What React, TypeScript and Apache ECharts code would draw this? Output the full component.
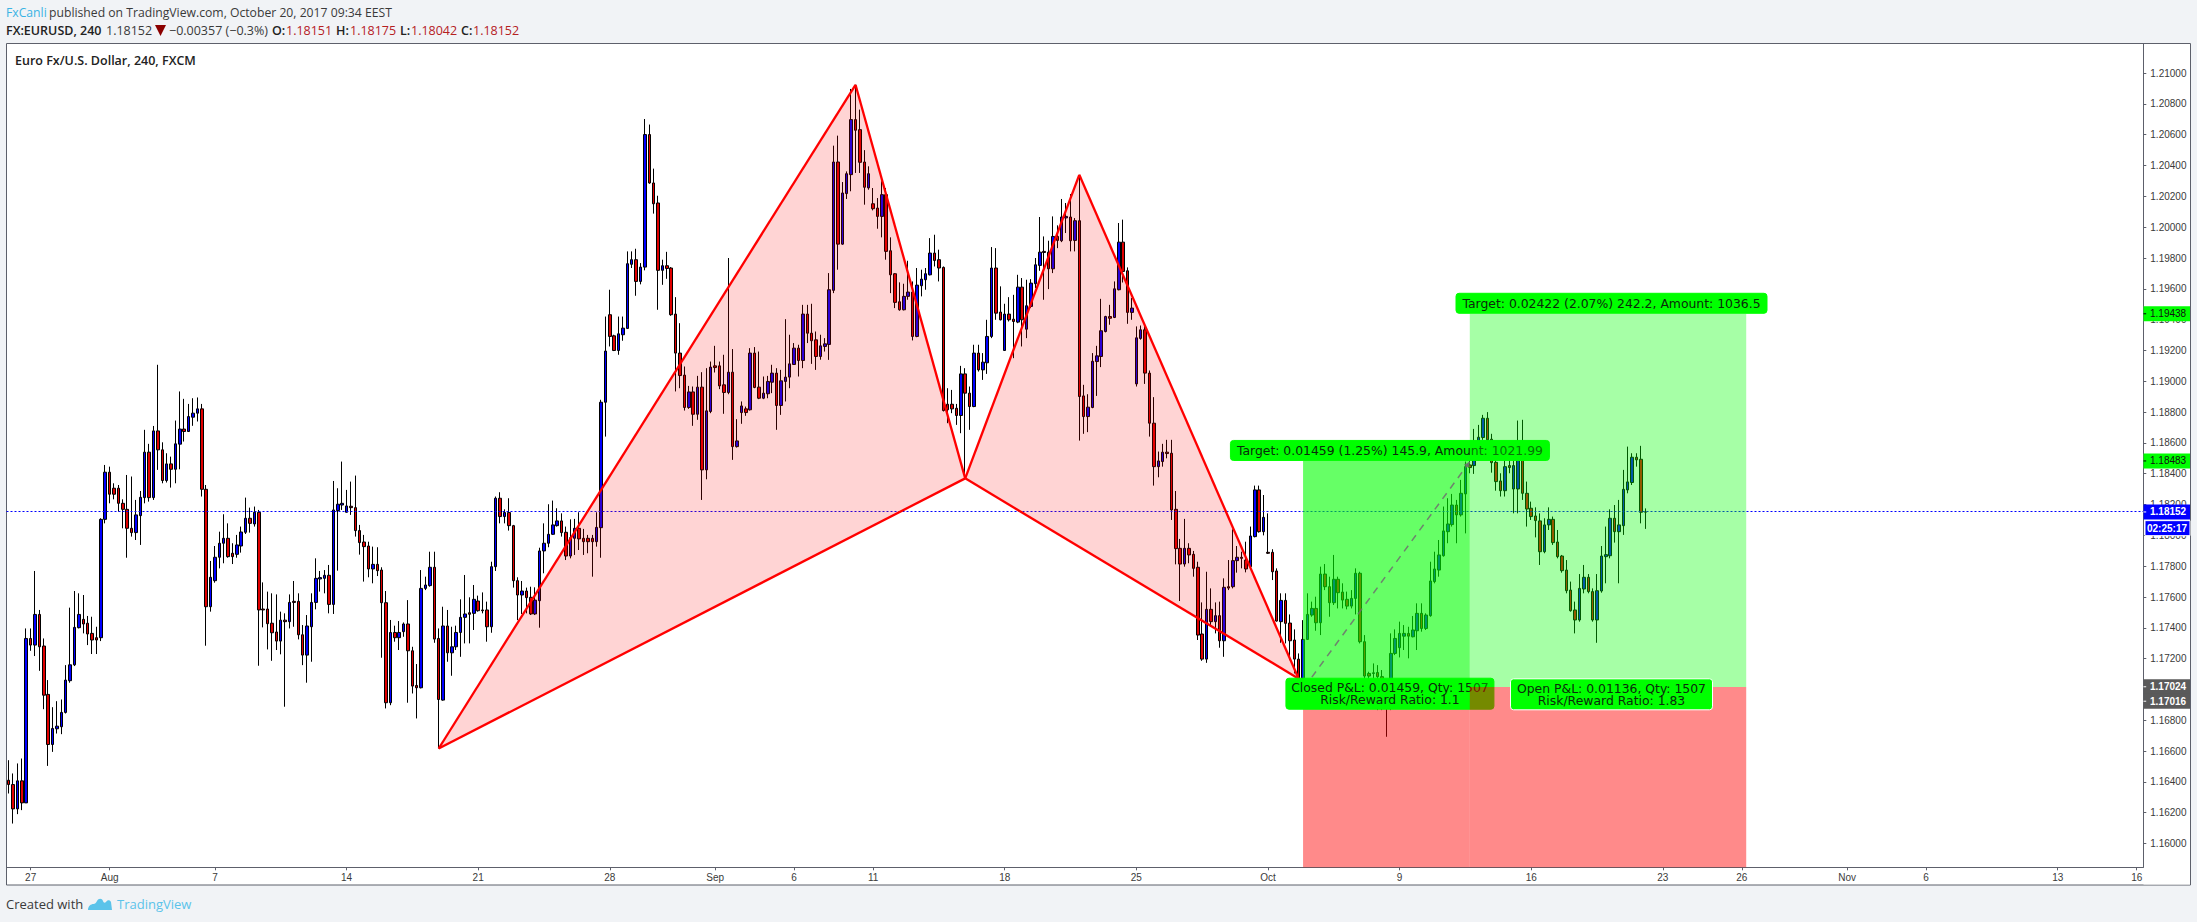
import React, { useEffect, useRef } from "react";
import * as echarts from "echarts";

// [open, close, low, high], split by stretch of the chart
const lateJulyBars = [
[1.16411,1.16383,1.16325,1.16541],[1.16383,1.16225,1.1613,1.16455],[1.16225,1.16407,1.16191,1.1652],[1.16407,1.16264,1.16217,1.16552],
[1.16264,1.17331,1.16264,1.17396],[1.17331,1.17288,1.17251,1.17396],[1.17288,1.17487,1.17217,1.17769],[1.17487,1.17277,1.17121,1.17516],
[1.17282,1.16963,1.16872,1.17331],[1.16968,1.16643,1.16504,1.17061],[1.16643,1.16747,1.16595,1.16885],[1.16745,1.16762,1.16714,1.16924],
[1.16758,1.16851,1.1671,1.16935],[1.16851,1.17061,1.16844,1.17158],[1.17057,1.1716,1.17044,1.17531],[1.1716,1.17403,1.17152,1.17639],
[1.17401,1.17487,1.17396,1.17624],[1.17455,1.17425,1.17364,1.17613],[1.1743,1.1736,1.17288,1.17477],[1.17364,1.17321,1.1723,1.17472],
[1.17336,1.17321,1.1723,1.17407],[1.17336,1.18104,1.17314,1.18111],[1.18104,1.1841,1.18078,1.18457],
];
const earlyAugustBars = [
[1.1841,1.18267,1.18208,1.18446],[1.18306,1.18267,1.18234,1.18338],[1.18306,1.18208,1.18154,1.18327],[1.18208,1.18169,1.18046,1.18234],
[1.18169,1.18046,1.17855,1.18392],[1.18046,1.18018,1.17992,1.18382],[1.18018,1.18133,1.1797,1.1823],[1.18128,1.18247,1.17938,1.18288],
[1.18245,1.1854,1.18208,1.18685],[1.1854,1.18245,1.18219,1.18594],[1.18245,1.18678,1.1823,1.1871],[1.18678,1.18555,1.18425,1.19107],
[1.18555,1.18356,1.18338,1.18604],[1.18356,1.18464,1.18343,1.18533],[1.18464,1.18429,1.1831,1.18511],[1.18429,1.18594,1.18338,1.18745],
[1.18592,1.1869,1.18429,1.18934],[1.1869,1.18674,1.18609,1.18886],[1.18674,1.18771,1.18674,1.18853],[1.18767,1.18793,1.18711,1.1889],
[1.18793,1.18821,1.18739,1.18895],[1.18821,1.18299,1.18252,1.18853],[1.18299,1.17537,1.17284,1.18327],
];
const midAugustBars = [
[1.17537,1.17728,1.17505,1.17834],[1.17706,1.17858,1.17693,1.17931],[1.17858,1.17949,1.17786,1.18024],[1.17949,1.17981,1.17819,1.18137],
[1.17981,1.17862,1.17855,1.18078],[1.17884,1.17862,1.17814,1.17949],[1.17877,1.17938,1.17855,1.18003],[1.17931,1.18022,1.17888,1.18057],
[1.1802,1.18111,1.18009,1.18245],[1.18111,1.18078,1.18018,1.1818],[1.18074,1.1815,1.18057,1.18187],[1.1815,1.17516,1.17154,1.18165],
[1.17522,1.17516,1.17403,1.17695],[1.17522,1.17427,1.1726,1.17635],[1.1743,1.17368,1.17186,1.17624],[1.17373,1.17314,1.17256,1.17617],
[1.17314,1.1745,1.17228,1.17505],[1.1745,1.1744,1.16888,1.17494],[1.1744,1.17565,1.17396,1.17617],[1.17572,1.17565,1.17407,1.17704],
[1.17572,1.17355,1.17325,1.17624],[1.17355,1.17223,1.17158,1.17418],[1.17223,1.17412,1.17044,1.17483],[1.17407,1.17565,1.1718,1.17624],
[1.17565,1.17721,1.1752,1.17851],[1.17717,1.17726,1.17635,1.17769],[1.17721,1.17741,1.17624,1.17775],[1.17741,1.17552,1.17494,1.17808],
[1.17552,1.18165,1.1749,1.18353],[1.18161,1.18202,1.17771,1.18306],[1.18197,1.18208,1.18165,1.18479],[1.1815,1.18191,1.18148,1.18295],
[1.18189,1.1818,1.18133,1.18349],[1.1818,1.18031,1.17992,1.18388],[1.18031,1.17953,1.17875,1.18068],[1.17957,1.17927,1.177,1.18003],
[1.17931,1.17782,1.17728,1.17959],[1.17782,1.17812,1.17689,1.17927],[1.17812,1.17771,1.17736,1.17923],[1.17775,1.17563,1.17206,1.17793],
[1.17563,1.16914,1.16877,1.17639],[1.16914,1.1737,1.16898,1.17451],[1.1737,1.17336,1.1731,1.17414],[1.17336,1.1737,1.17256,1.17444],
[1.17375,1.17425,1.17342,1.17435],[1.17425,1.17251,1.16914,1.1758],[1.17251,1.17022,1.16974,1.17277],[1.17026,1.17011,1.16812,1.17165],
[1.17011,1.17656,1.17007,1.17775],[1.17656,1.17678,1.17645,1.17732],[1.17674,1.17793,1.17667,1.17894],[1.17793,1.17327,1.17303,1.17894],
[1.17331,1.16935,1.16617,1.17396],[1.16931,1.17412,1.16927,1.17537],
];
const lateAugustBars = [
[1.17412,1.17238,1.1718,1.17516],[1.17238,1.17277,1.17089,1.17407],[1.17277,1.1737,1.17256,1.17414],[1.1737,1.17468,1.17212,1.17585],
[1.17468,1.1749,1.17299,1.17743],[1.17498,1.17488,1.17299,1.17598],[1.17494,1.17585,1.17386,1.17678],[1.17574,1.17511,1.17505,1.17609],
[1.17516,1.17511,1.17494,1.1763],[1.17516,1.17407,1.1731,1.1757],[1.17407,1.17797,1.17368,1.17829],[1.17797,1.18241,1.17769,1.18252],
[1.18241,1.18122,1.18078,1.1828],[1.18122,1.18148,1.18078,1.18169],[1.18148,1.18063,1.18031,1.18241],[1.18063,1.17706,1.17661,1.18068],
[1.17706,1.17613,1.1745,1.17728],[1.17613,1.17639,1.1749,1.17704],[1.17639,1.17596,1.17494,1.17661],[1.17598,1.1749,1.17483,1.17667],
[1.1749,1.1758,1.17483,1.17663],[1.17576,1.17899,1.17401,1.1792],[1.17899,1.17949,1.17754,1.18078],[1.17949,1.18007,1.17923,1.18202],
[1.18007,1.18068,1.18003,1.18226],[1.18063,1.18094,1.18057,1.18176],[1.18094,1.18018,1.17992,1.18143],[1.1802,1.17866,1.1784,1.18057],
[1.17866,1.17985,1.17851,1.18104],[1.17981,1.18046,1.17873,1.18107],[1.18046,1.17977,1.17905,1.1815],[1.17981,1.17959,1.17873,1.18042],
[1.17981,1.17959,1.17884,1.18003],[1.17981,1.17959,1.17732,1.18003],[1.17959,1.18052,1.17927,1.1815],[1.1805,1.18864,1.17855,1.1888],
[1.18864,1.19196,1.18641,1.1942],[1.19432,1.19291,1.19226,1.19594],[1.19295,1.192,1.19196,1.19302],[1.192,1.19308,1.19172,1.1942],
[1.19302,1.19345,1.19263,1.1942],[1.19343,1.19763,1.19341,1.19843],[1.19759,1.19789,1.19735,1.19843],[1.19789,1.19648,1.19555,1.1986],
[1.19648,1.19741,1.19629,1.19767],[1.19741,1.20601,1.1972,1.20702],[1.20601,1.20287,1.20282,1.20666],[1.20287,1.20152,1.20088,1.2038],
[1.20157,1.1972,1.19464,1.20204],[1.1972,1.1975,1.19626,1.19789],[1.1975,1.19732,1.19665,1.1984],[1.19735,1.19432,1.19425,1.19741],
[1.19436,1.19183,1.18934,1.19546],[1.19183,1.19037,1.18955,1.19377],[1.1904,1.1883,1.1881,1.19096],[1.1883,1.18931,1.18821,1.1897],
[1.18931,1.18786,1.18711,1.18966],[1.18786,1.18962,1.1875,1.19035],[1.18962,1.18425,1.1823,1.19059],[1.18425,1.18808,1.18364,1.19085],
];
const earlySeptemberBars = [
[1.18804,1.19092,1.18793,1.19128],[1.191,1.19089,1.19057,1.1923],[1.191,1.1897,1.18949,1.19128],[1.18977,1.18927,1.18789,1.19172],
[1.18927,1.19059,1.18916,1.198],[1.19059,1.18576,1.1849,1.19209],[1.18576,1.18613,1.1857,1.18754],[1.18797,1.1884,1.18724,1.18869],
[1.18821,1.18797,1.18776,1.18836],[1.18815,1.19183,1.1881,1.19215],[1.19183,1.1896,1.18955,1.19222],[1.18962,1.1889,1.18884,1.19193],
[1.1889,1.18923,1.18884,1.19031],[1.18919,1.18999,1.1889,1.19035],[1.18994,1.19053,1.18923,1.19107],[1.19053,1.18843,1.18685,1.19085],
[1.18843,1.19003,1.18782,1.19074],[1.18999,1.19027,1.18869,1.19403],[1.19027,1.19113,1.18955,1.19302],[1.19109,1.19215,1.19107,1.19248],
[1.19215,1.19135,1.19031,1.19237],[1.19135,1.19436,1.19085,1.19496],[1.19436,1.19312,1.19248,1.19496],[1.19312,1.19263,1.19113,1.19503],
[1.19269,1.19161,1.19074,1.19323],[1.19161,1.1923,1.1914,1.19302],[1.19226,1.19243,1.19193,1.1928],[1.19239,1.19594,1.19139,1.19702],
[1.1959,1.20423,1.19572,1.20529],[1.20423,1.1989,1.19724,1.20594],[1.1989,1.20222,1.19886,1.20293],[1.20218,1.20347,1.20183,1.20362],
[1.20341,1.20698,1.20233,1.20897],[1.20698,1.20629,1.20352,1.20925],[1.20633,1.20421,1.20352,1.20763],[1.20423,1.20259,1.20146,1.205],
[1.20255,1.20347,1.20243,1.20395],[1.20152,1.2012,1.20109,1.20254],[1.20124,1.2007,1.1999,1.20189],[1.2007,1.20211,1.19934,1.20298],
[1.20211,1.19843,1.19789,1.20254],[1.19847,1.19691,1.19572,1.19934],[1.19698,1.19512,1.19475,1.19702],[1.19516,1.19464,1.19458,1.19642],
[1.19464,1.19551,1.1946,1.19633],[1.19551,1.19579,1.19529,1.19782],[1.19579,1.19291,1.19265,1.19648],[1.19291,1.19624,1.19286,1.19735],
[1.1962,1.19663,1.19551,1.19724],[1.19659,1.19698,1.19594,1.19735],[1.19691,1.19832,1.19687,1.19929],[1.19832,1.19784,1.19745,1.19951],
[1.19789,1.19735,1.19648,1.19854],[1.19739,1.1881,1.18804,1.19745],
];
const lateSeptemberBars = [
[1.18851,1.18815,1.18728,1.18955],[1.18851,1.18821,1.18793,1.18944],[1.18825,1.18778,1.18717,1.18853],[1.18778,1.19048,1.18663,1.191],
[1.19048,1.18923,1.18371,1.19085],[1.18923,1.18836,1.18685,1.18966],[1.18836,1.19183,1.18832,1.19237],[1.19183,1.19074,1.19063,1.19237],
[1.19074,1.19124,1.19009,1.19183],[1.1912,1.19291,1.19048,1.19399],[1.19291,1.19735,1.1928,1.19871],[1.19735,1.19442,1.19399,1.19864],
[1.19449,1.19399,1.19395,1.19616],[1.192,1.19436,1.192,1.19503],[1.19436,1.19399,1.19388,1.19546],[1.19403,1.19388,1.1915,1.19561],
[1.19384,1.19611,1.19377,1.19691],[1.19611,1.19399,1.19226,1.1967],[1.19338,1.1949,1.1928,1.19659],[1.19486,1.19637,1.19475,1.19663],
[1.19633,1.19756,1.19605,1.198],[1.19752,1.19838,1.19717,1.20066],[1.19843,1.19836,1.19529,1.1994],[1.19838,1.1973,1.19598,1.19912],
[1.1973,1.1994,1.19702,1.2007],[1.1994,1.19914,1.19864,1.20012],[1.19912,1.20066,1.19903,1.20183],[1.2006,1.2007,1.19962,1.20157],
[1.20066,1.19912,1.19843,1.20215],[1.19914,1.20042,1.19843,1.20059],[1.20042,1.18901,1.18615,1.2034],[1.18905,1.18771,1.18659,1.18977],
[1.18771,1.18832,1.1867,1.18916],[1.1883,1.1913,1.18825,1.19183],[1.19128,1.19165,1.18905,1.1923],[1.19161,1.19328,1.19092,1.19535],
[1.19323,1.1942,1.19317,1.19425],[1.1942,1.19409,1.19367,1.19496],[1.19414,1.196,1.1941,1.19648],[1.19594,1.19903,1.1959,1.20027],
[1.19903,1.19713,1.19641,1.20049],[1.19717,1.19447,1.19373,1.19739],[1.19447,1.19475,1.19399,1.1954],[1.18983,1.19282,1.18966,1.19356],
[1.19278,1.19334,1.1927,1.19362],[1.19334,1.19053,1.18983,1.19367],[1.19053,1.18728,1.18641,1.1907],[1.18728,1.18446,1.18323,1.18897],
[1.18446,1.18483,1.18377,1.18544],[1.18479,1.1854,1.18446,1.18594],[1.1854,1.18531,1.185,1.1862],[1.18533,1.18165,1.181,1.1862],
[1.18169,1.17914,1.17812,1.18288],[1.17916,1.17814,1.17574,1.17977],[1.17814,1.17916,1.17797,1.18107],[1.17916,1.17873,1.17819,1.17949],
[1.17877,1.17786,1.17732,1.17899],[1.17793,1.17353,1.17321,1.17829],[1.1736,1.17197,1.17186,1.17565],[1.17197,1.1752,1.17173,1.17764],
[1.1752,1.1744,1.17407,1.17656],[1.1744,1.17479,1.17364,1.17565],[1.17479,1.17316,1.17271,1.1757],[1.17316,1.17663,1.17212,1.17721],
];
const turnOfOctoberBars = [
[1.17667,1.17658,1.17645,1.1784],[1.17667,1.17836,1.17656,1.18039],[1.17836,1.17858,1.17758,1.17931],[1.17858,1.17851,1.17786,1.17894],
[1.1784,1.17782,1.1776,1.17959],[1.17797,1.17996,1.17786,1.18057],[1.17992,1.18295,1.17987,1.18323],[1.18295,1.18024,1.18018,1.18323],
[1.18024,1.18117,1.18,1.18262],[1.1789,1.17884,1.17879,1.18143],[1.1789,1.17764,1.1771,1.1791],[1.17769,1.17444,1.1744,1.17786],
[1.1744,1.17578,1.17303,1.17624],[1.17578,1.17429,1.17299,1.17624],[1.17431,1.17316,1.1719,1.17487],[1.17321,1.17197,1.17104,1.1739],
[1.17197,1.17072,1.17057,1.17234],[1.17072,1.17325,1.17039,1.1745],[1.17325,1.17487,1.17321,1.17624],[1.17483,1.17526,1.17472,1.1757],
[1.17526,1.17433,1.17381,1.17602],[1.17433,1.17749,1.17353,1.17797],[1.17749,1.17667,1.17645,1.17814],[1.17667,1.17563,1.17472,1.17732],
[1.17563,1.17715,1.17548,1.17873],[1.17715,1.17628,1.17526,1.17732],[1.17632,1.1758,1.17526,1.17689],[1.17585,1.17541,1.1752,1.17635],
[1.17541,1.17591,1.17526,1.17645],[1.17591,1.17754,1.17487,1.17786],[1.17754,1.1731,1.17299,1.17764],[1.1731,1.17087,1.17039,1.17353],
[1.17104,1.17087,1.17061,1.17115],[1.17104,1.17108,1.17018,1.17169],[1.1711,1.17083,1.16866,1.17158],[1.17083,1.17018,1.16866,1.17126],
[1.17018,1.16888,1.16693,1.1705],[1.16996,1.17234,1.16866,1.17364],[1.17234,1.17331,1.17223,1.1739],[1.17271,1.17364,1.17208,1.1744],
[1.17346,1.17364,1.17256,1.17418],[1.17364,1.17346,1.17202,1.17407],[1.17342,1.17386,1.17338,1.17477],[1.17381,1.17494,1.17256,1.17559],
[1.17494,1.17396,1.17375,1.17559],[1.17396,1.17483,1.17386,1.17494],[1.17479,1.17704,1.17472,1.17829],[1.177,1.17782,1.17689,1.17894],
[1.17775,1.17873,1.17732,1.1797],[1.17868,1.18029,1.17862,1.18187],[1.18024,1.18074,1.17949,1.18241],[1.1807,1.18197,1.18057,1.18269],
[1.18197,1.18133,1.17949,1.1823],[1.18133,1.18273,1.18122,1.1836],[1.18269,1.18446,1.18013,1.18479],
];
const midOctoberBars = [
[1.18457,1.1844,1.18403,1.1849],[1.18453,1.1849,1.18399,1.18691],[1.1849,1.18637,1.18485,1.18717],[1.18635,1.1876,1.1862,1.18782],
[1.1876,1.1862,1.18598,1.188],[1.18624,1.18472,1.18407,1.18659],[1.18474,1.18349,1.1829,1.18533],[1.18353,1.1829,1.18252,1.18403],
[1.1829,1.18446,1.18252,1.18511],[1.18453,1.1844,1.18403,1.1849],[1.18301,1.18453,1.18143,1.1849],[1.18301,1.18496,1.18143,1.18745],
[1.18496,1.18273,1.1823,1.1875],[1.18273,1.18171,1.18057,1.18349],[1.18176,1.18122,1.181,1.18219],[1.18126,1.18096,1.17987,1.18182],
[1.18094,1.17894,1.17808,1.18143],[1.17894,1.18068,1.17884,1.18111],[1.18068,1.18104,1.18035,1.18182],[1.18104,1.17953,1.17938,1.18122],
[1.17957,1.17862,1.17851,1.18035],[1.17866,1.17771,1.17758,1.17873],[1.17775,1.17641,1.17624,1.1784],[1.17645,1.17511,1.17505,1.177],
[1.17516,1.17451,1.17364,1.1757],[1.17451,1.17656,1.1744,1.17749],[1.17652,1.17728,1.17624,1.17808],[1.17728,1.17635,1.17624,1.17749],
[1.17635,1.17451,1.1744,1.17656],[1.17451,1.17641,1.17303,1.17749],[1.17639,1.17866,1.17628,1.17931],[1.17862,1.17875,1.17689,1.18057],
[1.17868,1.18111,1.17851,1.18169],[1.18111,1.18024,1.17953,1.18197],[1.18024,1.18068,1.17689,1.1823],[1.18063,1.18299,1.18003,1.18425],
[1.18295,1.18347,1.18273,1.18576],[1.18343,1.18507,1.18327,1.18533],[1.18507,1.1849,1.18446,1.18533],[1.18494,1.1815,1.18078,1.18581],
[1.18151,1.18152,1.18042,1.18175],
];

const barGroups = [lateJulyBars, earlyAugustBars, midAugustBars, lateAugustBars, earlySeptemberBars, lateSeptemberBars, turnOfOctoberBars, midOctoberBars];
const bars = barGroups.flat();

const slotCount = 487;
const timeTickIndexes = [5, 23, 47, 77, 107, 137, 161, 179, 197, 227, 257, 287, 317, 347, 377, 395, 419, 437, 467, 485];
const timeTickLabels = ["27", "Aug", "7", "14", "21", "28", "Sep", "6", "11", "18", "25", "Oct", "9", "16", "23", "26", "Nov", "6", "13", "16"];
const priceTicks = [1.16, 1.162, 1.164, 1.166, 1.168, 1.17, 1.172, 1.174, 1.176, 1.178, 1.18, 1.182, 1.184, 1.186, 1.188, 1.19, 1.192, 1.194, 1.196, 1.198, 1.2, 1.202, 1.204, 1.206, 1.208, 1.21];
const priceMin = 1.15846;
const priceMax = 1.21192;

// harmonic pattern X A B C D
const patternIndexes = [98, 193, 218, 244, 294];
const patternPrices = [1.16617, 1.20924, 1.1837, 1.2034, 1.1707];

const lastPrice = 1.18152;
const entryPrice = 1.17016;
const closedTarget = 1.18483;
const openTarget = 1.19438;
const positionEdges = [295, 333, 396];
const arrowIndexes = [297, 333];
const arrowPrices = [1.1708, 1.18478];

const closedTargetText = "Target: 0.01459 (1.25%) 145.9, Amount: 1021.99";
const openTargetText = "Target: 0.02422 (2.07%) 242.2, Amount: 1036.5";
const closedPnlText = ["Closed P&L: 0.01459, Qty: 1507", "Risk/Reward Ratio: 1.1"];
const openPnlText = ["Open P&L: 0.01136, Qty: 1507", "Risk/Reward Ratio: 1.83"];

const countdownText = "02:25:17";
const priceTags = [
  { price: 1.19438, fill: "#00ff00", text: "#111", weight: "normal", shift: 0 },
  { price: 1.18483, fill: "#00ff00", text: "#111", weight: "normal", shift: 0 },
  { price: 1.18152, fill: "#0000ff", text: "#fff", weight: "bold", shift: 0 },
  { price: 1.17024, fill: "#5a5a5a", text: "#fff", weight: "bold", shift: 1 },
  { price: 1.17016, fill: "#5a5a5a", text: "#fff", weight: "bold", shift: 14.2 },
];

const AXIS_FONT = '"Liberation Sans", Arial, sans-serif';
const HEAD_FONT = '"Open Sans", sans-serif';
const TAG_FONT = '"DejaVu Sans", Verdana, sans-serif';
const FRAME = "#5d606b";

echarts.graphic.registerShape(
  "tvLogo",
  echarts.graphic.extendPath(
    "M0 14 C0 10 3 8 5.5 8 C7 8 8 7 9 5 C10.5 2 14 2 15 5 C15.5 6.5 16.5 7.5 18 6 C19.5 3.5 22 4 23 6 L24 14 Z M6 12 L9 7 L13 12 L18 8 L21 12 Z",
    {}
  )
);

const headText = (text: string, x: number, y: number, fill: string, weight = "normal", size = 12.5) => ({
  type: "text",
  z: 30,
  style: { text, x, y, fill, font: `${weight} ${size}px ${HEAD_FONT}`, verticalAlign: "middle" },
});

function overlay(params: any, api: any) {
  const pt = (i: number, p: number) => api.coord([i, p]);
  const kids: any[] = [];
  const pts = patternIndexes.map((ix, k) => pt(ix, patternPrices[k]));
  const [X, A, B, C, D] = pts;
  const fill = "rgba(255,0,0,0.17)";
  kids.push({ type: "polygon", shape: { points: [X, A, B] }, style: { fill } });
  kids.push({ type: "polygon", shape: { points: [B, C, D] }, style: { fill } });
  for (const seg of [[X, A], [A, B], [B, C], [C, D], [D, B], [B, X]]) {
    kids.push({
      type: "line",
      shape: { x1: seg[0][0], y1: seg[0][1], x2: seg[1][0], y2: seg[1][1] },
      style: { stroke: "#ff0000", lineWidth: 2.3 },
    });
  }
  const box = (cx: number, top: number, w: number, h: number, lines: string[], white: boolean) => {
    kids.push({
      type: "rect",
      shape: { x: cx - w / 2, y: top, width: w, height: h, r: 3 },
      style: { fill: "#00ff00", stroke: white ? "#ffffff" : "#00ff00", lineWidth: 1 },
    });
    lines.forEach((t, k) => {
      kids.push({
        type: "text",
        style: {
          text: t,
          x: cx,
          y: top + (lines.length === 1 ? h / 2 : 9.5 + k * 11.8),
          fill: "#0b2b0b",
          font: `12.4px ${TAG_FONT}`,
          align: "center",
          verticalAlign: "middle",
        },
      });
    });
  };
  const [eL, eM, eR] = positionEdges;
  const yEntry = pt(eL, entryPrice)[1];
  const yBottom = pt(eL, priceMin)[1];
  const xL = pt(eL, entryPrice)[0];
  const xM = pt(eM, entryPrice)[0];
  const xR = pt(eR, entryPrice)[0];
  const yClosed = pt(eL, closedTarget)[1];
  const yOpen = pt(eL, openTarget)[1];
  // closed position
  kids.push({ type: "rect", shape: { x: xL, y: yClosed, width: xM - xL, height: yEntry - yClosed }, style: { fill: "rgba(0,255,0,0.6)" } });
  kids.push({ type: "rect", shape: { x: xL, y: yEntry, width: xM - xL, height: yBottom - yEntry }, style: { fill: "rgba(255,0,0,0.46)" } });
  const a0 = pt(arrowIndexes[0], arrowPrices[0]);
  const a1 = pt(arrowIndexes[1], arrowPrices[1]);
  kids.push({
    type: "line",
    shape: { x1: a0[0], y1: a0[1], x2: a1[0], y2: a1[1] },
    style: { stroke: "rgba(110,110,110,0.85)", lineWidth: 1.5, lineDash: [7, 6] },
  });
  kids.push({
    type: "polygon",
    shape: { points: [[a1[0], a1[1]], [a1[0] - 1, a1[1] + 6], [a1[0] - 6, a1[1] + 3]] },
    style: { fill: "rgba(110,110,110,0.85)" },
  });
  box((xL + xM) / 2 + 3.5, yClosed - 20.5, 319, 20, [closedTargetText], false);
  box((xL + xM) / 2 + 3.5, yEntry - 8.8, 208, 31, closedPnlText, false);
  // open position
  kids.push({ type: "rect", shape: { x: xM, y: yOpen, width: xR - xM, height: yEntry - yOpen }, style: { fill: "rgba(0,255,0,0.35)" } });
  kids.push({ type: "rect", shape: { x: xM, y: yEntry, width: xR - xM, height: yBottom - yEntry }, style: { fill: "rgba(255,0,0,0.46)" } });
  box((xM + xR) / 2 + 3.5, yOpen - 20.5, 311, 20, [openTargetText], false);
  box((xM + xR) / 2 + 3.5, yEntry - 8.2, 202, 31, openPnlText, true);
  return { type: "group", children: kids };
}

function lastLine(params: any, api: any) {
  const y = Math.floor(api.coord([0, lastPrice])[1]) + 0.5;
  return {
    type: "line",
    shape: { x1: 6.5, y1: y, x2: 2143, y2: y },
    style: { stroke: "#0000ff", lineWidth: 1, lineDash: [2, 2] },
  };
}

function tagItems(params: any, api: any) {
  const kids: any[] = [];
  const left = 2143.5;
  const width = 46.5;
  for (const tag of priceTags) {
    const y = api.coord([0, tag.price])[1] + tag.shift;
    kids.push({ type: "rect", shape: { x: left, y: y - 7.5, width, height: 15 }, style: { fill: tag.fill } });
    kids.push({ type: "line", shape: { x1: left, y1: y, x2: left + 2.7, y2: y }, style: { stroke: tag.fill === "#00ff00" ? "#000" : "#fff", lineWidth: 1 } });
    kids.push({
      type: "text",
      style: { text: tag.price.toFixed(5), x: 2150, y, fill: tag.text, font: `${tag.weight} 10px ${AXIS_FONT}`, verticalAlign: "middle" },
    });
  }
  const yc = api.coord([0, lastPrice])[1] + 16.2;
  kids.push({ type: "rect", shape: { x: 2145, y: yc - 7.5, width: 45, height: 15 }, style: { fill: "#0000ff", stroke: "#ffffff", lineWidth: 1 } });
  kids.push({
    type: "text",
    style: { text: countdownText, x: 2147, y: yc, fill: "#fff", font: `bold 10px ${AXIS_FONT}`, verticalAlign: "middle" },
  });
  return { type: "group", children: kids };
}

export default function App() {
  const ref = useRef<HTMLDivElement>(null);
  useEffect(() => {
    if (!ref.current) return;
    document.body.style.margin = "0";
    const chart = echarts.init(ref.current, null, { renderer: "svg" });
    const categories = Array.from({ length: slotCount }, (_, i) => {
      const k = timeTickIndexes.indexOf(i);
      return k >= 0 ? timeTickLabels[k] : "";
    });
    const isTick = (i: number) => timeTickIndexes.includes(i);
    chart.setOption({
      animation: false,
      backgroundColor: "#f1f3f6",
      tooltip: { show: false },
      grid: { left: 6.5, top: 43.5, width: 2136.8, height: 823.8 },
      xAxis: {
        type: "category",
        data: categories,
        boundaryGap: true,
        z: 0,
        axisLine: { show: true, lineStyle: { color: FRAME, width: 1 } },
        axisTick: { show: true, interval: isTick, alignWithLabel: true, length: 3, lineStyle: { color: FRAME } },
        axisLabel: { show: true, interval: isTick, margin: 5, color: "#3a3a3a", fontSize: 10, fontFamily: AXIS_FONT },
        splitLine: { show: false },
      },
      yAxis: {
        type: "value",
        position: "right",
        min: priceMin,
        max: priceMax,
        z: 2,
        scale: true,
        axisLine: { show: true, lineStyle: { color: FRAME, width: 1 } },
        axisTick: { show: true, customValues: priceTicks, length: 3, lineStyle: { color: FRAME } },
        axisLabel: {
          show: true,
          customValues: priceTicks,
          margin: 7,
          align: "left",
          color: "#3a3a3a",
          fontSize: 10,
          fontFamily: AXIS_FONT,
          formatter: (v: number) => v.toFixed(5),
        },
        splitLine: { show: false },
      },
      graphic: [
        {
          type: "rect",
          z: -1,
          shape: { x: 6.5, y: 43.5, width: 2184, height: 841.5 },
          style: { fill: "#ffffff", stroke: FRAME, lineWidth: 1 },
        },
        { type: "rect", z: 1, shape: { x: 2143.5, y: 868, width: 46.5, height: 16.5 }, style: { fill: "#ffffff" } },
        headText("FxCanli", 6, 12, "#3bb3e4", "normal", 12.2),
        headText("published on TradingView.com, October 20, 2017 09:34 EEST", 49, 12, "#3a3a3a", "normal", 12.2),
        headText("FX:EURUSD, 240", 6, 30, "#222", "600"),
        headText("1.18152", 106, 30, "#3a3a3a"),
        { type: "polygon", z: 30, shape: { points: [[155, 25], [166, 25], [160.5, 36]] }, style: { fill: "#8b0000" } },
        headText("\u22120.00357 (\u22120.3%)", 169, 30, "#3a3a3a"),
        headText("O:", 272, 30, "#222", "600"),
        headText("1.18151", 286, 30, "#b5201f"),
        headText("H:", 336, 30, "#222", "600"),
        headText("1.18175", 350, 30, "#b5201f"),
        headText("L:", 400, 30, "#222", "600"),
        headText("1.18042", 411, 30, "#b5201f"),
        headText("C:", 461, 30, "#222", "600"),
        headText("1.18152", 473, 30, "#b5201f"),
        headText("Euro Fx/U.S. Dollar, 240, FXCM", 15, 60, "#222", "600"),
        headText("Created with", 6, 904, "#3a3a3a", "normal", 13),
        { type: "tvLogo", z: 30, x: 88, y: 896, scaleX: 1, scaleY: 1, style: { fill: "#5bc3ea" } },
        headText("TradingView", 117, 904, "#5bc3ea", "normal", 13),
      ],
      series: [
        {
          type: "candlestick",
          z: 3,
          data: bars,
          barWidth: 3,
          itemStyle: {
            color: "#0000ff",
            color0: "#e00000",
            borderColor: "#000000",
            borderColor0: "#000000",
            borderColorDoji: "#000000",
            borderWidth: 1,
          },
          silent: true,
        },
        { type: "custom", z: 4, silent: true, data: [[0, lastPrice]], renderItem: lastLine, encode: { x: 0, y: 1 } },
        { type: "custom", z: 5, silent: true, data: [[0, lastPrice]], renderItem: overlay, encode: { x: 0, y: 1 } },
        { type: "custom", z: 20, silent: true, clip: false, data: [[0, lastPrice]], renderItem: tagItems, encode: { x: 0, y: 1 } },
      ],
    });
    return () => chart.dispose();
  }, []);
  return <div ref={ref} style={{ position: "fixed", left: 0, top: 0, width: 2197, height: 922 }} />;
}
